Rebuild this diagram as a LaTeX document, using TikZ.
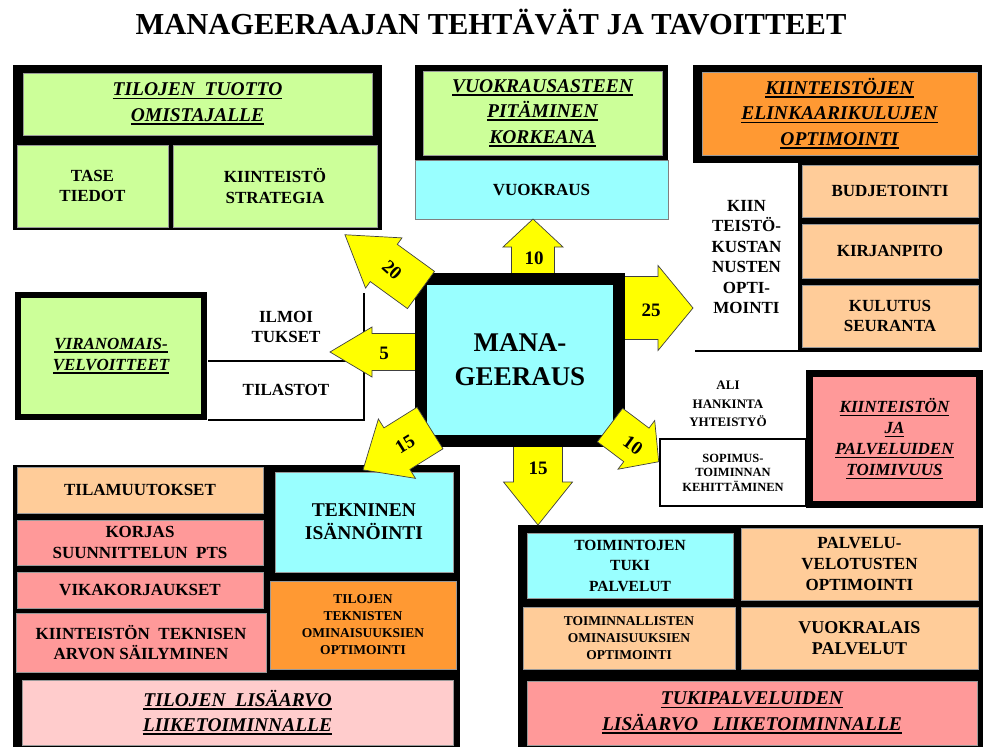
\documentclass[tikz,border=0pt]{standalone}
\usepackage{fontspec}
\setmainfont{Liberation Serif}

\definecolor{cellgreen}{HTML}{CCFF99}
\definecolor{cellcyan}{HTML}{99FFFF}
\definecolor{cellpeach}{HTML}{FFCC99}
\definecolor{cellorange}{HTML}{FF9933}
\definecolor{cellpink}{HTML}{FF9999}
\definecolor{cellrose}{HTML}{FFCCCC}
\definecolor{arrowyellow}{HTML}{FFFF00}

\newcommand\titlefont{\bfseries\fontsize{30.5}{33}\selectfont}
\newcommand\centerfont{\bfseries\fontsize{27}{34}\selectfont}
\newcommand\cellfont{\bfseries\fontsize{17}{20.5}\selectfont}
\newcommand\bigcellfont{\bfseries\fontsize{19.5}{23}\selectfont}
\newcommand\tinycellfont{\bfseries\fontsize{13.5}{17}\selectfont}
\newcommand\headfont{\bfseries\itshape\fontsize{19.5}{25.5}\selectfont}
\newcommand\subheadfont{\bfseries\itshape\fontsize{17}{21}\selectfont}
\newcommand\numfont{\bfseries\fontsize{19}{20}\selectfont}
\newcommand\hdul[1]{\setbox0=\hbox{#1}\rlap{\rule[-3.5pt]{\wd0}{1.8pt}}\box0}

\begin{document}
\begin{tikzpicture}[x=1pt, y=-1pt,
    blackframe/.style={fill=black, inner sep=0pt, outer sep=0pt},
    cell/.style={draw=black!40, line width=0.5pt, inner sep=0pt, outer sep=0pt, align=center, font=\cellfont},
    heavy/.style={draw=black, line width=#1, inner sep=0pt, outer sep=0pt, align=center},
    bare/.style={inner sep=0pt, outer sep=0pt, align=center, font=\cellfont},
    sepline/.style={black, line width=1.3pt},
    arrowbody/.style={fill=arrowyellow, draw=black!75, line width=0.7pt, line join=miter},
    numlabel/.style={font=\numfont, inner sep=0pt},
    pics/blockarrow/.style n args={4}{code={
        \filldraw[arrowbody] (0,#2) -- ({#1-#4},#2) -- ({#1-#4},#3) -- (#1,0)
            -- ({#1-#4},-#3) -- ({#1-#4},-#2) -- (0,-#2) -- cycle;
    }}]
    \useasboundingbox (0,0) rectangle (983,747);

    % Title
    \node[font=\titlefont] (title) at (491,22) {MANAGEERAAJAN TEHTÄVÄT JA TAVOITTEET};

    % Top left group
    \node[blackframe, minimum width=369pt, minimum height=165pt] (tlframe) at (197.5,147.5) {};
    \node[cell, fill=cellgreen, minimum width=349pt, minimum height=62pt, font=\headfont] (tuotto) at (197.5,104) {\hdul{TILOJEN\ \ TUOTTO}\\\hdul{OMISTAJALLE}};
    \node[cell, fill=cellgreen, minimum width=151pt, minimum height=82pt] (tase) at (92.5,186) {TASE\\TIEDOT};
    \node[cell, fill=cellgreen, minimum width=204pt, minimum height=82pt] (strategia) at (275,186) {KIINTEISTÖ\\STRATEGIA};

    % Top middle group
    \node[blackframe, minimum width=253pt, minimum height=95pt] (tmframe) at (541.5,112.5) {};
    \node[cell, fill=cellgreen, minimum width=239pt, minimum height=84pt, font=\headfont] (vuokrausaste) at (542.5,113) {\hdul{VUOKRAUSASTEEN}\\\hdul{PITÄMINEN}\\\hdul{KORKEANA}};
    \node[cell, fill=cellcyan, draw=black!50, minimum width=253pt, minimum height=59pt] (vuokraus) at (541.5,189.5) {VUOKRAUS};

    % Top right group
    \node[blackframe, minimum width=289pt, minimum height=98pt] (trframe) at (837.5,114) {};
    \node[blackframe, minimum width=184pt, minimum height=192pt] (costframe) at (890,256) {};
    \node[cell, fill=cellorange, minimum width=275pt, minimum height=83pt, font=\headfont] (elinkaari) at (839.5,113.5) {\hdul{KIINTEISTÖJEN}\\\hdul{ELINKAARIKULUJEN}\\\hdul{OPTIMOINTI}};
    \node[cell, fill=cellpeach, minimum width=176pt, minimum height=52pt] (budjetointi) at (890,191) {BUDJETOINTI};
    \node[cell, fill=cellpeach, minimum width=176pt, minimum height=54pt] (kirjanpito) at (890,251) {KIRJANPITO};
    \node[cell, fill=cellpeach, minimum width=176pt, minimum height=62pt] (kulutus) at (890,316) {KULUTUS\\SEURANTA};
    \node[bare, minimum width=103pt, minimum height=188pt] (kustannus) at (746.5,257) {KIIN\\TEISTÖ-\\KUSTAN\\NUSTEN\\OPTI-\\MOINTI};
    \draw[sepline] (kustannus.south west) -- (kustannus.south east);

    % Left middle group
    \node[heavy=6pt, fill=cellgreen, minimum width=186pt, minimum height=122pt, font=\subheadfont] (viranomais) at (111,356) {\hdul{VIRANOMAIS-}\\\hdul{VELVOITTEET}};
    \node[bare, minimum width=156pt, minimum height=68pt] (ilmoitukset) at (286,327) {ILMOI\\TUKSET};
    \node[bare, minimum width=156pt, minimum height=60pt] (tilastot) at (286,390) {TILASTOT};
    \draw[sepline] (ilmoitukset.south west) -- (ilmoitukset.south east);
    \draw[sepline] (tilastot.south west) -- (tilastot.south east) -- (ilmoitukset.north east);

    % Right middle group
    \node[bare, font={\bfseries\fontsize{13}{18.5}\selectfont}] (alihankinta) at (728,404) {ALI\\HANKINTA\\YHTEISTYÖ};
    \node[draw=black, line width=2.5pt, inner sep=0pt, minimum width=146pt, minimum height=67pt, align=center, font={\bfseries\fontsize{12.5}{14.5}\selectfont}] (sopimus) at (733,472.5) {SOPIMUS-\\TOIMINNAN\\KEHITTÄMINEN};
    \node[heavy=7pt, fill=cellpink, minimum width=170pt, minimum height=131pt, font=\subheadfont] (toimivuus) at (894.5,439) {\hdul{KIINTEISTÖN}\\\hdul{JA}\\\hdul{PALVELUIDEN}\\\hdul{TOIMIVUUS}};

    % Bottom left group
    \node[blackframe, minimum width=447pt, minimum height=282pt] (blframe) at (236.5,606) {};
    \node[cell, fill=cellpeach, minimum width=246pt, minimum height=46pt] (tilamuutokset) at (140,490) {TILAMUUTOKSET};
    \node[cell, fill=cellpink, minimum width=246pt, minimum height=45pt] (korjaus) at (140,542.5) {KORJAS\\SUUNNITTELUN\ \ PTS};
    \node[cell, fill=cellpink, minimum width=246pt, minimum height=36pt] (vikakorjaus) at (140,590) {VIKAKORJAUKSET};
    \node[cell, fill=cellpink, minimum width=250pt, minimum height=59pt] (arvo) at (141,642.5) {KIINTEISTÖN\ \ TEKNISEN\\ARVON SÄILYMINEN};
    \node[cell, fill=cellcyan, minimum width=178pt, minimum height=100pt, font=\bigcellfont] (isannointi) at (364,522) {TEKNINEN\\ISÄNNÖINTI};
    \node[cell, fill=cellorange, minimum width=186pt, minimum height=88pt, font=\tinycellfont] (ominaisuudet) at (363,625) {TILOJEN\\TEKNISTEN\\OMINAISUUKSIEN\\OPTIMOINTI};
    \node[cell, fill=cellrose, minimum width=431pt, minimum height=65pt, font=\headfont] (lisaarvo) at (237.5,712.5) {\hdul{TILOJEN\ \ LISÄARVO}\\\hdul{LIIKETOIMINNALLE}};

    % Bottom right group
    \node[blackframe, minimum width=465pt, minimum height=222pt] (brframe) at (750.5,636) {};
    \node[cell, fill=cellcyan, minimum width=206pt, minimum height=65pt, font={\bfseries\fontsize{15.5}{20.5}\selectfont}] (tukipalvelut) at (630,565.5) {TOIMINTOJEN\\TUKI\\PALVELUT};
    \node[cell, fill=cellpeach, minimum width=237pt, minimum height=72pt, font={\bfseries\fontsize{17}{21}\selectfont}] (velotus) at (859.5,564) {PALVELU-\\VELOTUSTEN\\OPTIMOINTI};
    \node[cell, fill=cellpeach, minimum width=212pt, minimum height=62pt, font=\tinycellfont] (toiminnalliset) at (629,638) {TOIMINNALLISTEN\\OMINAISUUKSIEN\\OPTIMOINTI};
    \node[cell, fill=cellpeach, minimum width=237pt, minimum height=62pt, font={\bfseries\fontsize{18}{20.5}\selectfont}] (vuokralais) at (859.5,638) {VUOKRALAIS\\PALVELUT};
    \node[cell, fill=cellpink, minimum width=450pt, minimum height=64pt, font=\headfont] (tukilisaarvo) at (752,713) {\hdul{TUKIPALVELUIDEN}\\\hdul{LISÄARVO\ \ \ LIIKETOIMINNALLE}};

    % Straight block arrows out of the centre
    \pic[rotate=90] at (533,280) {blockarrow={61}{21.5}{30}{28}};
    \pic at (615,308) {blockarrow={78}{31.5}{42.5}{35}};
    \pic[rotate=180] at (425,352) {blockarrow={95}{18.5}{25}{42}};
    \pic[rotate=-90] at (538,440) {blockarrow={85}{24.5}{34.5}{43}};

    % Centre box
    \node[heavy=12pt, fill=cellcyan, minimum width=198pt, minimum height=162pt, font=\centerfont] (manageeraus) at (520,360) {MANA-\\GEERAUS};

    % Diagonal block arrows, over the corners
    \pic[rotate=144] at (421,290) {blockarrow={94}{23}{31}{48}};
    \pic[rotate=212] at (430,428) {blockarrow={79}{24.5}{35}{40}};
    \pic[rotate=-37] at (610,425) {blockarrow={61}{21}{30.5}{28}};

    % Arrow numbers
    \node[numlabel] (n10up) at (534,258) {10};
    \node[numlabel] (n25) at (651,310) {25};
    \node[numlabel] (n5) at (384,353) {5};
    \node[numlabel] (n15down) at (538,468) {15};
    \node[numlabel, rotate=-42] (n20) at (392,270) {20};
    \node[numlabel, rotate=32] (n15left) at (405,444) {15};
    \node[numlabel, rotate=-36] (n10right) at (633,445) {10};
\end{tikzpicture}
\end{document}
